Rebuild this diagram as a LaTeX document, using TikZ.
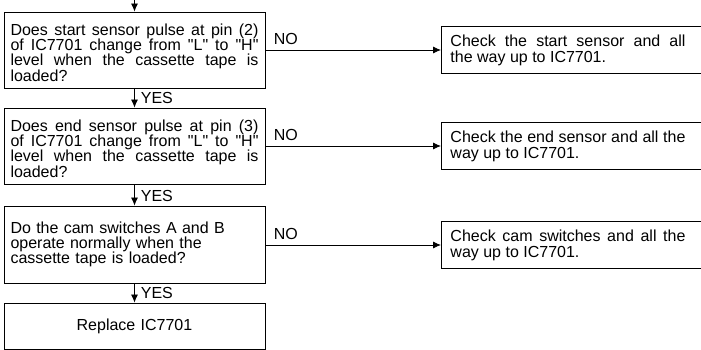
\documentclass[tikz,border=0pt]{standalone}
\usepackage{fontspec}
\setmainfont{Liberation Sans}
\usetikzlibrary{arrows.meta}

\tikzset{
  qbox/.style={draw, line width=0.9pt, text width=248pt, align=justify,
    inner xsep=6.5pt, inner ysep=0pt, minimum height=76pt,
    font=\fontsize{16}{15.3}\selectfont},
  chkbox/.style={draw, line width=0.9pt, anchor=west, inner xsep=9pt,
    inner ysep=0pt, minimum height=47pt, font=\fontsize{16}{16}\selectfont},
  flow/.style={-{Latex[length=8pt,width=7pt]}, line width=0.8pt},
  ans/.style={font=\fontsize{16}{16}\selectfont, inner sep=0pt, anchor=south west}
}
\newcommand{\lvl}{\textquotedbl L\textquotedbl{} to \textquotedbl H\textquotedbl}
\newcommand{\topgap}{\rule{0pt}{16.5pt}}

\begin{document}
\begin{tikzpicture}[x=1pt, y=-1pt]
  \useasboundingbox (0,0) rectangle (701,350);
  \clip (0,0) rectangle (701,350);

  % questions, left column
  \coordinate (top) at (134.5,0);
  \node[qbox] (q1) at (134.5,50) {\topgap Does start sensor pulse at pin (2)\linebreak of IC7701 change from \lvl\linebreak level when the cassette tape is\linebreak loaded?};
  \node[qbox] (q2) at (134.5,146) {\topgap Does end sensor pulse at pin (3)\linebreak of IC7701 change from \lvl\linebreak level when the cassette tape is\linebreak loaded?};
  \node[qbox, align=left, minimum height=77pt] (q3) at (134.5,244.5) {Do the cam switches A and B\\ operate normally when the\\ cassette tape is loaded?};
  \node[qbox, align=center, minimum height=46pt] (rep) at (134.5,326) {Replace IC7701};

  % checks, right column
  \node[chkbox] (c1) at (441,50) {\makebox[275pt][l]{\begin{minipage}{235pt}Check the start sensor and all\linebreak the way up to IC7701.\end{minipage}}};
  \node[chkbox] (c2) at (441,146) {\makebox[275pt][l]{\begin{minipage}{235pt}Check the end sensor and all the\linebreak way up to IC7701.\end{minipage}}};
  \node[chkbox] (c3) at (441,245) {\makebox[275pt][l]{\begin{minipage}{235pt}Check cam switches and all the\linebreak way up to IC7701.\end{minipage}}};

  \draw[flow] (top) -- (q1.north);
  \draw[flow] (q1.south) -- (q2.north) node[ans, pos=1, xshift=6pt, yshift=3pt] {YES};
  \draw[flow] (q2.south) -- (q3.north) node[ans, pos=1, xshift=6pt, yshift=3pt] {YES};
  \draw[flow] (q3.south) -- (rep.north) node[ans, pos=1, xshift=6pt, yshift=3pt] {YES};

  \draw[flow] (q1.east) -- node[ans, pos=0, xshift=8pt, yshift=5pt] {NO} (c1.west);
  \draw[flow] (q2.east) -- node[ans, pos=0, xshift=8pt, yshift=5pt] {NO} (c2.west);
  \draw[flow] (q3.east |- c3.west) -- node[ans, pos=0, xshift=8pt, yshift=5pt] {NO} (c3.west);
\end{tikzpicture}
\end{document}
